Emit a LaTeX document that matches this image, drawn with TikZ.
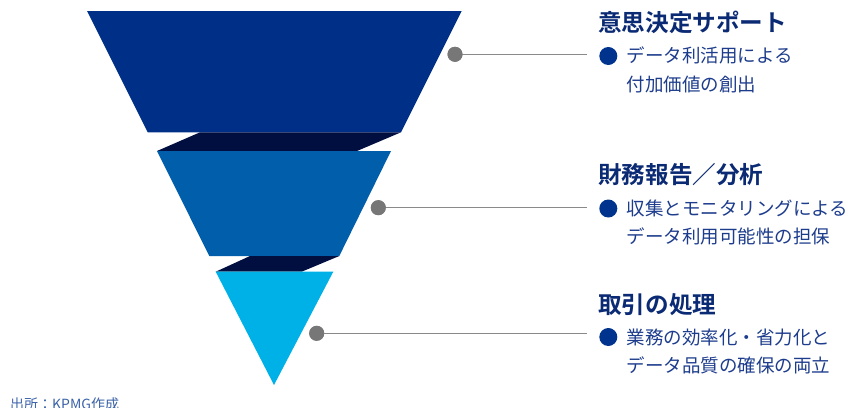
\documentclass[tikz,border=0pt]{standalone}
\usepackage{fontspec}
\newfontfamily\cjk{Noto Sans CJK JP}
\newfontfamily\cjkbold{Noto Sans CJK JP Bold}
\definecolor{topblue}{HTML}{002F87}
\definecolor{midblue}{HTML}{005EAB}
\definecolor{lightblue}{HTML}{00B1E8}
\definecolor{darknavy}{HTML}{000F40}
\definecolor{dotgray}{HTML}{777777}
\definecolor{linegray}{HTML}{8A8A8A}
\definecolor{titlecol}{HTML}{0B2A74}
\definecolor{bodycol}{HTML}{1D3C8C}
\definecolor{bulletcol}{HTML}{00338D}
\definecolor{notecol}{HTML}{3B62A8}
\tikzset{
  leaderdot/.style={circle, fill=dotgray, inner sep=0pt, minimum size=15pt},
  leader/.style={draw=linegray, line width=1.1pt},
  bulletdot/.style={circle, fill=bulletcol, inner sep=0pt, minimum size=18pt},
  titletext/.style={anchor=base west, inner sep=0pt, text=titlecol, font=\cjkbold\fontsize{23.6}{23.6}\selectfont},
  bodytext/.style={anchor=base west, inner sep=0pt, text=bodycol, font=\cjk\fontsize{18.5}{18.5}\selectfont},
  notetext/.style={anchor=base west, inner sep=0pt, text=notecol, font=\cjk\fontsize{14}{14}\selectfont},
}
\begin{document}
\begin{tikzpicture}[x=1pt,y=-1pt]
\useasboundingbox (0,0) rectangle (848,407);
% funnel
\fill[topblue] (87,11) -- (461.7,11) -- (401,132.3) -- (147.7,132.3) -- cycle;
\fill[darknavy] (200,132.3) -- (401,132.3) -- (357,151) -- (157,151) -- cycle;
\fill[midblue] (157,151) -- (391,151) -- (339.3,256) -- (209.3,256) -- cycle;
\fill[darknavy] (250,256) -- (339.3,256) -- (301.7,271.7) -- (215.7,271.7) -- cycle;
\fill[lightblue] (215.7,271.7) -- (333.3,271.7) -- (274,385) -- cycle;
% leaders
\coordinate (e1) at (586.7,54.3);
\coordinate (e2) at (586.7,207.7);
\coordinate (e3) at (586.7,333.3);
\node[leaderdot] (d1) at (455,54.3) {};
\node[leaderdot] (d2) at (378.3,207.7) {};
\node[leaderdot] (d3) at (316.7,333.3) {};
\draw[leader] (d1.center) -- (e1);
\draw[leader] (d2.center) -- (e2);
\draw[leader] (d3.center) -- (e3);
\node[leaderdot] at (455,54.3) {};
\node[leaderdot] at (378.3,207.7) {};
\node[leaderdot] at (316.7,333.3) {};
% texts
\node[titletext] (t1) at (598,31.9) {意思決定サポート};
\node[bulletdot] (b1) at (608.3,56) {};
\node[bodytext] (l11) at (626.7,62.5) {データ利活用による};
\node[bodytext] (l12) at (626.7,91.5) {付加価値の創出};
\node[titletext] (t2) at (598,183.9) {財務報告／分析};
\node[bulletdot] (b2) at (608.3,208.5) {};
\node[bodytext] (l21) at (626.7,215.5) {収集とモニタリングによる};
\node[bodytext] (l22) at (626.7,243.5) {データ利用可能性の担保};
\node[titletext] (t3) at (598,313.6) {取引の処理};
\node[bulletdot] (b3) at (608.3,337) {};
\node[bodytext] (l31) at (626.7,344) {業務の効率化・省力化と};
\node[bodytext] (l32) at (626.7,372) {データ品質の確保の両立};
\node[notetext] (note) at (10,409) {出所：KPMG作成};
\end{tikzpicture}
\end{document}
